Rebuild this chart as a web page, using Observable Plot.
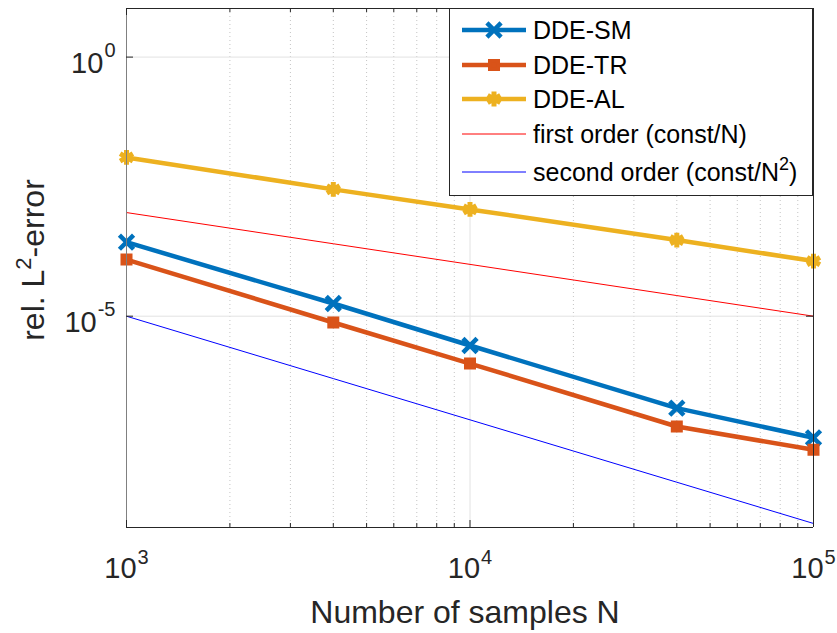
<!DOCTYPE html>
<html><head><meta charset="utf-8">
<script src="https://cdn.jsdelivr.net/npm/d3@7"></script>
<script src="https://cdn.jsdelivr.net/npm/@observablehq/plot@0.6"></script>
<style>
body{margin:0;background:#fff}
#chart{position:relative;width:837px;height:633px}
</style>
</head><body><div id="chart"></div>
<script>
// ---- data ----
const N = [1000, 4000, 10000, 40000, 100000];
const ddeSM = [2.68e-4, 1.76e-5, 2.72e-6, 1.68e-7, 4.5e-8];
const ddeTR = [1.24e-4, 7.55e-6, 1.22e-6, 7.44e-8, 2.64e-8];
const ddeAL = [1.16e-2, 2.8e-3, 1.15e-3, 2.95e-4, 1.16e-4];
const firstOrder = [1e-3, 2.5e-4, 1e-4, 2.5e-5, 1e-5];
const secondOrder = [1e-5, 6.25e-7, 1e-7, 6.25e-9, 1e-9];
const seriesNames = ["DDE-SM", "DDE-TR", "DDE-AL", "first order (const/N)", "second order (const/N"];
const xTickExps = [3, 4, 5];
const yTickExps = [0, -5];
const xMinorTicks = [2000, 3000, 4000, 5000, 6000, 7000, 8000, 9000, 20000, 30000, 40000, 50000, 60000, 70000, 80000, 90000];
const xDomain = [1e3, 1e5];
const yDomain = [8.36e-10, 8.67];
const xLabel = "Number of samples N";
const yLabelParts = ["rel. L", "2", "-error"];

// ---- layout / style ----
const W = 837, H = 633, mT = 8, mB = 106, mL = 126, mR = 24;
const plotW = W - mL - mR, plotH = H - mT - mB;
const FONT = "'Liberation Sans', Arial, Helvetica, sans-serif";
const colSM = "#0072BD", colTR = "#D95319", colAL = "#EDB120";
const axisCol = "#262626";
const rows = N.map((n, i) => ({N: n, SM: ddeSM[i], TR: ddeTR[i], AL: ddeAL[i], F: firstOrder[i], S: secondOrder[i]}));

const ctx = document.createElement("canvas").getContext("2d");
function tw(s, size) { ctx.font = `${size}px 'Liberation Sans'`; return ctx.measureText(s).width; }
const baseSize = 29, expSize = 20;
const w10 = tw("10", baseSize);
const expStr = e => String(e);

// x tick labels: centered as a whole
const xExpW = tw("4", expSize);
const xTot = w10 + 1 + xExpW;
const xLabelMarks = [
  Plot.text(xTickExps, {x: e => 10 ** e, frameAnchor: "bottom", text: () => "10", textAnchor: "end",
    lineAnchor: "bottom", dx: w10 - xTot / 2, dy: 50, fontSize: baseSize, fill: axisCol}),
  Plot.text(xTickExps, {x: e => 10 ** e, frameAnchor: "bottom", text: e => expStr(e), textAnchor: "start",
    lineAnchor: "bottom", dx: w10 - xTot / 2 + 1, dy: 36, fontSize: expSize, fill: axisCol})
];
// y tick labels: right aligned
const yLabelMarks = yTickExps.flatMap(e => {
  const we = tw(expStr(e), expSize);
  return [
    Plot.text([e], {y: d => 10 ** d, frameAnchor: "left", text: () => "10", textAnchor: "end",
      lineAnchor: "bottom", dx: -11 - we - 1, dy: 16, fontSize: baseSize, fill: axisCol}),
    Plot.text([e], {y: d => 10 ** d, frameAnchor: "left", text: d => expStr(d), textAnchor: "end",
      lineAnchor: "bottom", dx: -11, dy: 0, fontSize: expSize, fill: axisCol})
  ];
});

const chart = Plot.plot({
  width: W, height: H,
  marginTop: mT, marginBottom: mB, marginLeft: mL, marginRight: mR,
  x: {type: "log", domain: xDomain, axis: null},
  y: {type: "log", domain: yDomain, axis: null},
  style: {fontFamily: FONT, background: "white", overflow: "visible"},
  marks: [
    // grid
    Plot.ruleX(xMinorTicks, {stroke: "#c4c4c4", strokeDasharray: "1,3", strokeWidth: 1}),
    Plot.ruleX(xTickExps, {x: e => 10 ** e, stroke: "#e2e2e2", strokeWidth: 1}),
    Plot.ruleY(yTickExps, {y: e => 10 ** e, stroke: "#e2e2e2", strokeWidth: 1}),
    // reference slopes
    Plot.line(rows, {x: "N", y: "F", stroke: "#FF0000", strokeWidth: 1}),
    Plot.line(rows, {x: "N", y: "S", stroke: "#0000FF", strokeWidth: 1}),
    // data lines
    Plot.line(rows, {x: "N", y: "AL", stroke: colAL, strokeWidth: 4.5}),
    Plot.line(rows, {x: "N", y: "SM", stroke: colSM, strokeWidth: 4.5}),
    Plot.line(rows, {x: "N", y: "TR", stroke: colTR, strokeWidth: 4.5}),
    // markers
    Plot.dot(rows, {x: "N", y: "AL", symbol: d3.symbolAsterisk, r: 7, stroke: colAL, strokeWidth: 5, fill: "none"}),
    Plot.dot(rows, {x: "N", y: "SM", symbol: d3.symbolTimes, r: 6.5, stroke: colSM, strokeWidth: 4.5, fill: "none"}),
    Plot.dot(rows, {x: "N", y: "TR", symbol: d3.symbolSquare, r: 4.8, stroke: colTR, strokeWidth: 3.5, fill: colTR}),
    // box
    Plot.ruleX([xDomain[0]], {stroke: "#808080", strokeWidth: 1}),
    Plot.ruleX([xDomain[1]], {stroke: axisCol, strokeWidth: 1}),
    Plot.ruleY([yDomain[0]], {stroke: axisCol, strokeWidth: 1}),
    Plot.ruleY([yDomain[1]], {stroke: axisCol, strokeWidth: 1}),
    // ticks (inward)
    Plot.ruleX(xMinorTicks, {insetTop: plotH - 4, stroke: axisCol}),
    Plot.ruleX(xMinorTicks, {insetBottom: plotH - 4, stroke: axisCol}),
    Plot.ruleX(xTickExps, {x: e => 10 ** e, insetTop: plotH - 7, stroke: axisCol}),
    Plot.ruleX(xTickExps, {x: e => 10 ** e, insetBottom: plotH - 7, stroke: axisCol}),
    Plot.ruleY(yTickExps, {y: e => 10 ** e, insetRight: plotW - 7, stroke: axisCol}),
    Plot.ruleY(yTickExps, {y: e => 10 ** e, insetLeft: plotW - 7, stroke: axisCol}),
    ...xLabelMarks,
    ...yLabelMarks
  ]
});
document.getElementById("chart").appendChild(chart);

// ---- axis titles & legend ----
const svg = d3.select(chart);
svg.append("text").attr("x", 465).attr("y", 623).attr("text-anchor", "middle")
  .attr("font-family", FONT).attr("font-size", 32).attr("fill", axisCol).text(xLabel);
const yl = svg.append("text").attr("transform", "translate(44,260) rotate(-90)").attr("text-anchor", "middle")
  .attr("font-family", FONT).attr("font-size", 32).attr("fill", axisCol);
yl.append("tspan").text(yLabelParts[0]);
yl.append("tspan").attr("font-size", 22).attr("dy", -13).text(yLabelParts[1]);
yl.append("tspan").attr("dy", 13).text(yLabelParts[2]);

const lg = svg.append("g");
lg.append("rect").attr("x", 449.5).attr("y", 8.5).attr("width", 363).attr("height", 187)
  .attr("fill", "white").attr("stroke", axisCol).attr("stroke-width", 1);
const legendItems = [
  {name: seriesNames[0], color: colSM, w: 4.5, sym: d3.symbolTimes, r: 6.5, fill: "none", sw: 4.5, y: 30},
  {name: seriesNames[1], color: colTR, w: 4.5, sym: d3.symbolSquare, r: 4.8, fill: colTR, sw: 3.5, y: 65},
  {name: seriesNames[2], color: colAL, w: 4.5, sym: d3.symbolAsterisk, r: 7, fill: "none", sw: 5, y: 99},
  {name: seriesNames[3], color: "#FF0000", w: 1, y: 134},
  {name: seriesNames[4], color: "#0000FF", w: 1, y: 172, sup: "2", tail: ")"}
];
legendItems.forEach(it => {
  lg.append("line").attr("x1", 462).attr("x2", 526).attr("y1", it.y).attr("y2", it.y)
    .attr("stroke", it.color).attr("stroke-width", it.w);
  if (it.sym) {
    const gen = d3.symbol().type(it.sym).size(Math.PI * it.r * it.r);
    lg.append("path").attr("transform", `translate(494,${it.y})`)
      .attr("d", gen())
      .attr("stroke", it.color).attr("stroke-width", it.sw).attr("fill", it.fill);
  }
  const t = lg.append("text").attr("x", 533).attr("y", it.y + 9).attr("font-family", FONT)
    .attr("text-anchor", "start").attr("font-size", 25).attr("fill", "#000");
  t.append("tspan").text(it.name);
  if (it.sup) {
    t.append("tspan").attr("font-size", 18).attr("dy", -11).text(it.sup);
    t.append("tspan").attr("dy", 11).text(it.tail);
  }
});
</script>
</body></html>
